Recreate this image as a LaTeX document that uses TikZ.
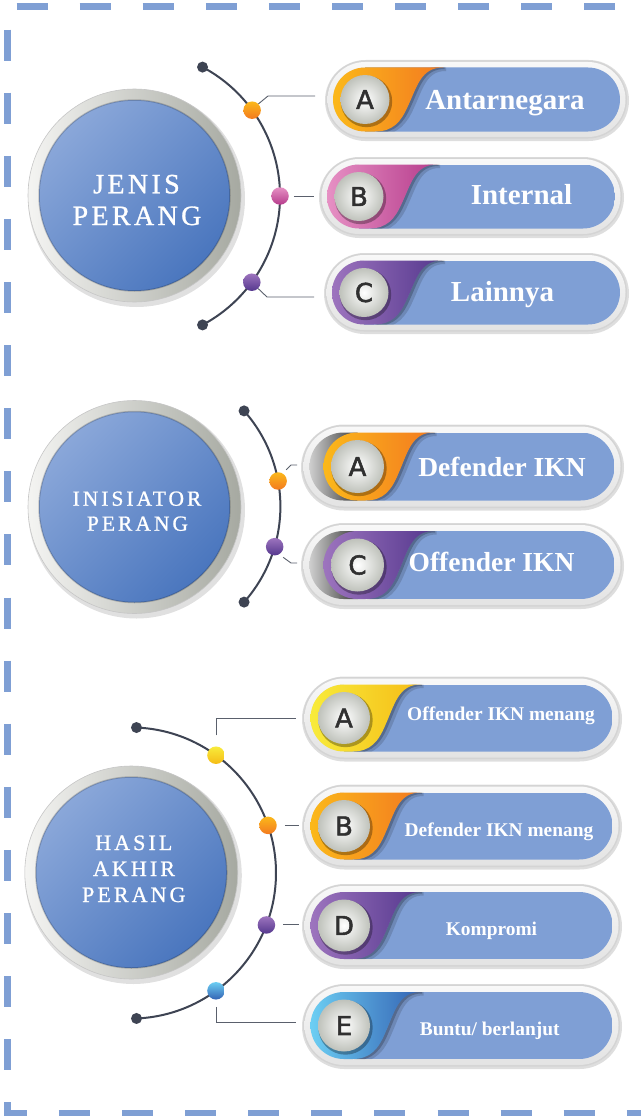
\documentclass[tikz,border=0pt]{standalone}
\usepackage{fontspec}
\setmainfont{Liberation Serif}
\newfontfamily\titlefontA{Liberation Serif}[LetterSpace=12, FakeBold=1]
\newfontfamily\titlefontB{Liberation Serif}[LetterSpace=14, FakeBold=1]
\newfontfamily\letterfont{DejaVu Sans}[FakeBold=2]
\usetikzlibrary{calc}
\definecolor{dashc}{HTML}{7F9FD4}
\definecolor{pillblue}{HTML}{7F9FD5}
\definecolor{arcc}{HTML}{3E4453}
\definecolor{connc}{HTML}{5A606C}
\definecolor{ringedge}{HTML}{D4D4D4}
\definecolor{ringtop}{HTML}{F8F8F8}
\definecolor{ringbot}{HTML}{E3E3E3}
\definecolor{letterc}{HTML}{303030}
\definecolor{letteredge}{HTML}{BFC2BB}
\definecolor{ringL}{HTML}{F4F4F2}
\definecolor{ringR}{HTML}{A6A9A1}
\definecolor{blueL}{HTML}{8AA7D9}
\definecolor{blueD}{HTML}{4A76BE}
\definecolor{darkL}{HTML}{CFCFCF}
\definecolor{darkR}{HTML}{3A3A3A}
\definecolor{orL}{HTML}{FBB81A}
\definecolor{orR}{HTML}{F37A20}
\definecolor{pkL}{HTML}{E690C4}
\definecolor{pkR}{HTML}{B63C8C}
\definecolor{puL}{HTML}{9D74BE}
\definecolor{puR}{HTML}{55388E}
\definecolor{yeL}{HTML}{F8EB3B}
\definecolor{yeR}{HTML}{F5BC16}
\definecolor{blL}{HTML}{6CCEF3}
\definecolor{blR}{HTML}{3463B4}
\tikzset{
  dborder/.style={draw=dashc, line width=7pt, dash pattern=on 31pt off 32.1pt},
  arcline/.style={draw=arcc, line width=2pt},
  enddot/.style={circle, fill=arcc, inner sep=0pt, minimum size=11pt},
  ballnode/.style={circle, inner sep=0pt, minimum size=17.5pt, shading angle=30},
  conn/.style={draw=connc, line width=0.9pt},
  ttl/.style={text=white, anchor=base, inner sep=0pt},
  ptext/.style={text=white, anchor=base, inner sep=0pt},
  lettr/.style={text=letterc, font=\letterfont\fontsize{26}{26}\selectfont, inner sep=0pt},
}
% #1 name, #2 left, #3 center y, #4 right, #5 outer height, #6 colour prefix, #7 letter
\newcommand\pill[7]{%
  \pgfmathsetmacro\pT{#3-#5/2}%
  \pgfmathsetmacro\pB{#3+#5/2}%
  \pgfmathsetmacro\pR{#5/2}%
  \pgfmathsetmacro\pRi{#5/2-1.5}%
  \pgfmathsetmacro\pRs{#5/2+1.5}%
  \pgfmathsetmacro\iL{#2+\ring}%
  \pgfmathsetmacro\iR{#4-\ring}%
  \pgfmathsetmacro\iT{\pT+\ring}%
  \pgfmathsetmacro\iB{\pB-\ring}%
  \pgfmathsetmacro\ih{\iB-\iT}%
  \pgfmathsetmacro\ir{\ih/2}%
  \pgfmathsetmacro\cL{\iL+\inset}%
  \pgfmathsetmacro\lr{\ir-7.5}%
  \pgfmathsetmacro\lrb{\lr+1.2}%
  \coordinate (#1) at (#2,#3);
  \fill[black, opacity=.13, rounded corners=\pRs pt] (#2-1,\pT-0.5) rectangle (#4+2,\pB+2.5);
  \fill[ringedge, rounded corners=\pR pt] (#2,\pT) rectangle (#4,\pB);
  \shade[top color=ringtop, bottom color=ringbot, rounded corners=\pRi pt] (#2+1.5,\pT+1.5) rectangle (#4-1.5,\pB-1.5);
  \begin{scope}
    \clip[rounded corners=\ir pt] (\iL,\iT) rectangle (\iR,\iB);
    \shade[left color=\inL, right color=\inR] (\iL,\iT) rectangle (\cL+\ir,\iB);
    \fill[pillblue] (\cL+\ir,\iT) rectangle (\iR,\iB);
    \draw[black, opacity=.14, line width=7pt, xshift=3pt] (\cL+110,\iT) .. controls (\cL+88,\iT) and (\cL+84,\iT+0.3*\ih) .. (\cL+75,\iT+0.6*\ih) .. controls (\cL+68,\iT+0.85*\ih) and (\cL+60,\iB) .. (\cL+42,\iB);
    \draw[black, opacity=.22, line width=3pt, xshift=1.5pt] (\cL+110,\iT) .. controls (\cL+88,\iT) and (\cL+84,\iT+0.3*\ih) .. (\cL+75,\iT+0.6*\ih) .. controls (\cL+68,\iT+0.85*\ih) and (\cL+60,\iB) .. (\cL+42,\iB);
    \shade[left color=#6L, right color=#6R] (\cL+\ir,\iT) -- (\cL+110,\iT) .. controls (\cL+88,\iT) and (\cL+84,\iT+0.3*\ih) .. (\cL+75,\iT+0.6*\ih) .. controls (\cL+68,\iT+0.85*\ih) and (\cL+60,\iB) .. (\cL+42,\iB) -- (\cL+\ir,\iB) arc[start angle=-90, end angle=-270, radius=\ir pt] -- cycle;
  \end{scope}
  \fill[black, opacity=.3] (\cL+\ir+1.5,#3+2) circle[radius=\lrb pt];
  \shade[inner color=white, outer color=letteredge] (\cL+\ir,#3) circle[radius=\lr pt];
  \node[lettr] (#1l) at (\cL+\ir,#3) {#7};
}
% #1 name, #2 x, #3 y
\newcommand\bigdisc[3]{%
  \coordinate (#1) at (#2,#3);
  \fill[black, opacity=.12] ($(#1)+(2,3)$) circle[radius=108.5pt];
  \shade[left color=ringL, right color=ringR] (#1) circle[radius=106.5pt];
  \draw[gray!45, line width=.6pt] (#1) circle[radius=106.5pt];
  \shade[top color=blueL, bottom color=blueD, shading angle=45] (#1) circle[radius=95.5pt];
  \draw[black, opacity=.18, line width=1.5pt] (#1) circle[radius=95.5pt];
}
\begin{document}
\begin{tikzpicture}[x=1pt,y=-1pt]
\useasboundingbox (0,0) rectangle (641,1116);
\fill[white] (0,0) rectangle (641,1116);
% dashed frame
\draw[dborder] (16.5,6.5) -- (641,6.5);
\draw[dborder] (7,29.6) -- (7,1113.5) -- (641,1113.5);

% ===== Section 1 =====
\bigdisc{c1}{134.5}{195.5}
\node[ttl, font=\titlefontA\fontsize{28}{28}\selectfont] (t1a) at (136.5,193.3) {JENIS};
\node[ttl, font=\titlefontA\fontsize{28}{28}\selectfont] (t1b) at (137,225) {PERANG};
\coordinate (a1) at (134,196);
\draw[arcline] ($(a1)+(62:146pt)$) coordinate (a1t) arc[start angle=62, end angle=-62, radius=146pt] coordinate (a1b);
\node[enddot] (e1t) at (a1t) {};
\node[enddot] (e1b) at (a1b) {};
\node[ballnode, top color=orL, bottom color=orR] (d1a) at ($(a1)+(36:146pt)$) {};
\node[ballnode, top color=pkL, bottom color=pkR] (d1b) at ($(a1)+(0:146pt)$) {};
\node[ballnode, top color=puL, bottom color=puR] (d1c) at ($(a1)+(-36.2:146pt)$) {};
\coordinate (k1a) at (315,96);
\coordinate (k1b) at (314,196);
\coordinate (k1c) at (314,297);
\draw[conn] (d1a.45) -- ($(k1a)+(-47,0)$) -- (k1a);
\draw[conn, shorten <=5pt] (d1b.east) -- (k1b);
\draw[conn] (d1c.-45) -- ($(k1c)+(-47,0)$) -- (k1c);
\def\ring{7}\def\inset{0}\def\inL{ringbot}\def\inR{ringbot}
\pill{p1a}{326}{99.5}{627}{78}{or}{A}
\pill{p1b}{320}{196.5}{622}{78}{pk}{B}
\pill{p1c}{325}{292.5}{627}{78}{pu}{C}
\node[ptext, font=\bfseries\fontsize{29}{29}\selectfont] (x1a) at (505,109.3) {Antarnegara};
\node[ptext, font=\bfseries\fontsize{29}{29}\selectfont] (x1b) at (521.5,204) {Internal};
\node[ptext, font=\bfseries\fontsize{29}{29}\selectfont] (x1c) at (502.5,301.5) {Lainnya};

% ===== Section 2 =====
\bigdisc{c2}{134.5}{507}
\node[ttl, font=\titlefontB\fontsize{21.5}{21.5}\selectfont] (t2a) at (137,505.7) {INISIATOR};
\node[ttl, font=\titlefontB\fontsize{21.5}{21.5}\selectfont] (t2b) at (137.5,530.7) {PERANG};
\coordinate (a2) at (136.4,506.5);
\draw[arcline] ($(a2)+(41.6:144pt)$) coordinate (a2t) arc[start angle=41.6, end angle=-41.6, radius=144pt] coordinate (a2b);
\node[enddot] (e2t) at (a2t) {};
\node[enddot] (e2b) at (a2b) {};
\node[ballnode, top color=orL, bottom color=orR] (d2a) at ($(a2)+(10.2:144pt)$) {};
\node[ballnode, top color=puL, bottom color=puR] (d2c) at ($(a2)+(-16.2:144pt)$) {};
\coordinate (k2a) at (297,465);
\coordinate (k2c) at (297,563);
\draw[conn, shorten <=5pt] (d2a.60) -- ($(k2a)+(-6,0)$) -- (k2a);
\draw[conn, shorten <=5pt] (d2c.-60) -- ($(k2c)+(-6,0)$) -- (k2c);
\def\ring{7.5}\def\inset{14}\def\inL{darkL}\def\inR{darkR}
\pill{p2a}{302}{466.5}{622}{83}{or}{A}
\pill{p2c}{302}{565}{622}{83}{pu}{C}
\node[ptext, font=\bfseries\fontsize{27.5}{27.5}\selectfont] (x2a) at (502,476.7) {Defender IKN};
\node[ptext, font=\bfseries\fontsize{27.5}{27.5}\selectfont] (x2c) at (491.5,571) {Offender IKN};

% ===== Section 3 =====
\bigdisc{c3}{131.3}{872.5}
\node[ttl, font=\titlefontB\fontsize{22}{22}\selectfont] (t3a) at (133.8,850) {HASIL};
\node[ttl, font=\titlefontB\fontsize{22}{22}\selectfont] (t3b) at (134,876) {AKHIR};
\node[ttl, font=\titlefontB\fontsize{22}{22}\selectfont] (t3c) at (133.8,902) {PERANG};
\coordinate (a3) at (130.4,873);
\draw[arcline] ($(a3)+(87.6:145.6pt)$) coordinate (a3t) arc[start angle=87.6, end angle=-87.6, radius=145.6pt] coordinate (a3b);
\node[enddot] (e3t) at (a3t) {};
\node[enddot] (e3b) at (a3b) {};
\node[ballnode, top color=yeL, bottom color=yeR] (d3a) at ($(a3)+(54:145.6pt)$) {};
\node[ballnode, top color=orL, bottom color=orR] (d3b) at ($(a3)+(19.1:145.6pt)$) {};
\node[ballnode, top color=puL, bottom color=puR] (d3c) at ($(a3)+(-20.9:145.6pt)$) {};
\node[ballnode, top color=blL, bottom color=blR] (d3d) at ($(a3)+(-54:145.6pt)$) {};
\coordinate (k3a) at (296,718);
\coordinate (k3b) at (299,825);
\coordinate (k3c) at (299,925);
\coordinate (k3d) at (296,1022);
\draw[conn, shorten <=11pt] (d3a.north) |- (k3a);
\draw[conn, shorten <=8pt] (d3b.east) -- (d3b.east -| k3b);
\draw[conn, shorten <=8pt] (d3c.east) -- (d3c.east -| k3c);
\draw[conn, shorten <=7pt] (d3d.south) |- (k3d);
\def\ring{7.5}\def\inset{0}\def\inL{ringbot}\def\inR{ringbot}
\pill{p3a}{303}{718}{620}{82}{ye}{A}
\pill{p3b}{303}{826}{620}{82}{or}{B}
\pill{p3d}{303}{925.5}{620}{82}{pu}{D}
\pill{p3e}{303}{1025.5}{620}{82}{bl}{E}
\node[ptext, font=\bfseries\fontsize{19.4}{19.4}\selectfont] (x3a) at (501,720.7) {Offender IKN menang};
\node[ptext, font=\bfseries\fontsize{19.4}{19.4}\selectfont] (x3b) at (499,836) {Defender IKN menang};
\node[ptext, font=\bfseries\fontsize{19.4}{19.4}\selectfont] (x3d) at (491.5,935.3) {Kompromi};
\node[ptext, font=\bfseries\fontsize{19.4}{19.4}\selectfont] (x3e) at (489.7,1035.7) {Buntu/ berlanjut};
\end{tikzpicture}
\end{document}
